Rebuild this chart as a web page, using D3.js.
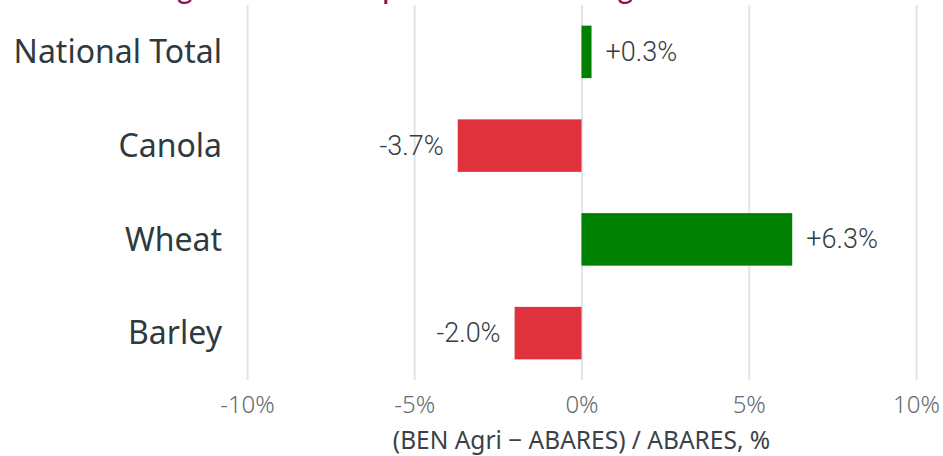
<!DOCTYPE html>
<html>
<head>
<meta charset="utf-8">
<script src="https://cdn.jsdelivr.net/npm/d3@7"></script>
<style>
  html, body { margin: 0; padding: 0; background: #ffffff; }
  svg { display: block; }
</style>
</head>
<body>
<svg id="chart" width="943" height="456"></svg>
<script>
const titleText = "Difference against ABARES production in the grain belt";
const categories = ["National Total", "Canola", "Wheat", "Barley"];
const values = [0.3, -3.7, 6.3, -2.0];
const valueLabels = ["+0.3%", "-3.7%", "+6.3%", "-2.0%"];
const tickValues = [-10, -5, 0, 5, 10];
const tickLabels = ["-10%", "-5%", "0%", "5%", "10%"];
const axisTitle = "(BEN Agri \u2212 ABARES) / ABARES, %";

const svg = d3.select("#chart");
const plot = { left: 247, right: 916, top: 5, bottom: 380 };

const x = d3.scaleLinear().domain([-10, 10]).range([plot.left, plot.right]);
const y = d3.scaleBand().domain(categories).range([plot.top, plot.bottom])
  .paddingInner(0.44).paddingOuter(0.22);

// title (cut off at the top in the reference)
svg.append("text")
  .attr("x", 16).attr("y", -1)
  .attr("font-family", "Lato, 'Noto Sans', sans-serif")
  .attr("font-size", 30)
  .attr("font-weight", 500)
  .attr("fill", "#8c1157")
  .text(titleText);

// grid + tick labels via axis
const axis = d3.axisBottom(x)
  .tickValues(tickValues)
  .tickFormat((d, i) => tickLabels[i])
  .tickSizeInner(-(plot.bottom - plot.top))
  .tickSizeOuter(0)
  .tickPadding(0);

const gx = svg.append("g")
  .attr("transform", `translate(0,${plot.bottom})`)
  .call(axis);
gx.select(".domain").remove();
gx.selectAll(".tick line").attr("stroke", "#e2e4e6").attr("stroke-width", 2);
gx.selectAll(".tick text")
  .attr("y", 33).attr("dy", null)
  .attr("font-family", "'Noto Sans', sans-serif")
  .attr("font-size", 24)
  .attr("font-weight", 300)
  .attr("fill", "#66696d");

// bars
svg.append("g").selectAll("rect")
  .data(values)
  .join("rect")
  .attr("x", d => x(Math.min(0, d)))
  .attr("y", (d, i) => y(categories[i]))
  .attr("width", d => Math.abs(x(d) - x(0)))
  .attr("height", y.bandwidth())
  .attr("fill", d => d >= 0 ? "#008000" : "#e0323c");

// value labels
svg.append("g").selectAll("text")
  .data(values)
  .join("text")
  .attr("x", d => d >= 0 ? x(d) + 14 : x(d) - 14)
  .attr("y", (d, i) => y(categories[i]) + y.bandwidth() / 2)
  .attr("dy", "0.33em")
  .attr("text-anchor", d => d >= 0 ? "start" : "end")
  .attr("font-family", "Roboto, 'Noto Sans', sans-serif")
  .attr("font-size", 27)
  .attr("font-weight", 300)
  .attr("fill", "#333c42")
  .text((d, i) => valueLabels[i]);

// category labels
svg.append("g").selectAll("text")
  .data(categories)
  .join("text")
  .attr("x", 222)
  .attr("y", d => y(d) + y.bandwidth() / 2)
  .attr("dy", "0.35em")
  .attr("text-anchor", "end")
  .attr("font-family", "'Noto Sans', sans-serif")
  .attr("font-size", 32)
  .attr("font-weight", 400)
  .attr("fill", "#2f3a40")
  .text(d => d);

// x-axis title
svg.append("text")
  .attr("x", x(0))
  .attr("y", 449)
  .attr("text-anchor", "middle")
  .attr("font-family", "'Noto Sans', sans-serif")
  .attr("font-size", 24.5)
  .attr("font-weight", 400)
  .attr("fill", "#3b4247")
  .text(axisTitle);
</script>
</body>
</html>
